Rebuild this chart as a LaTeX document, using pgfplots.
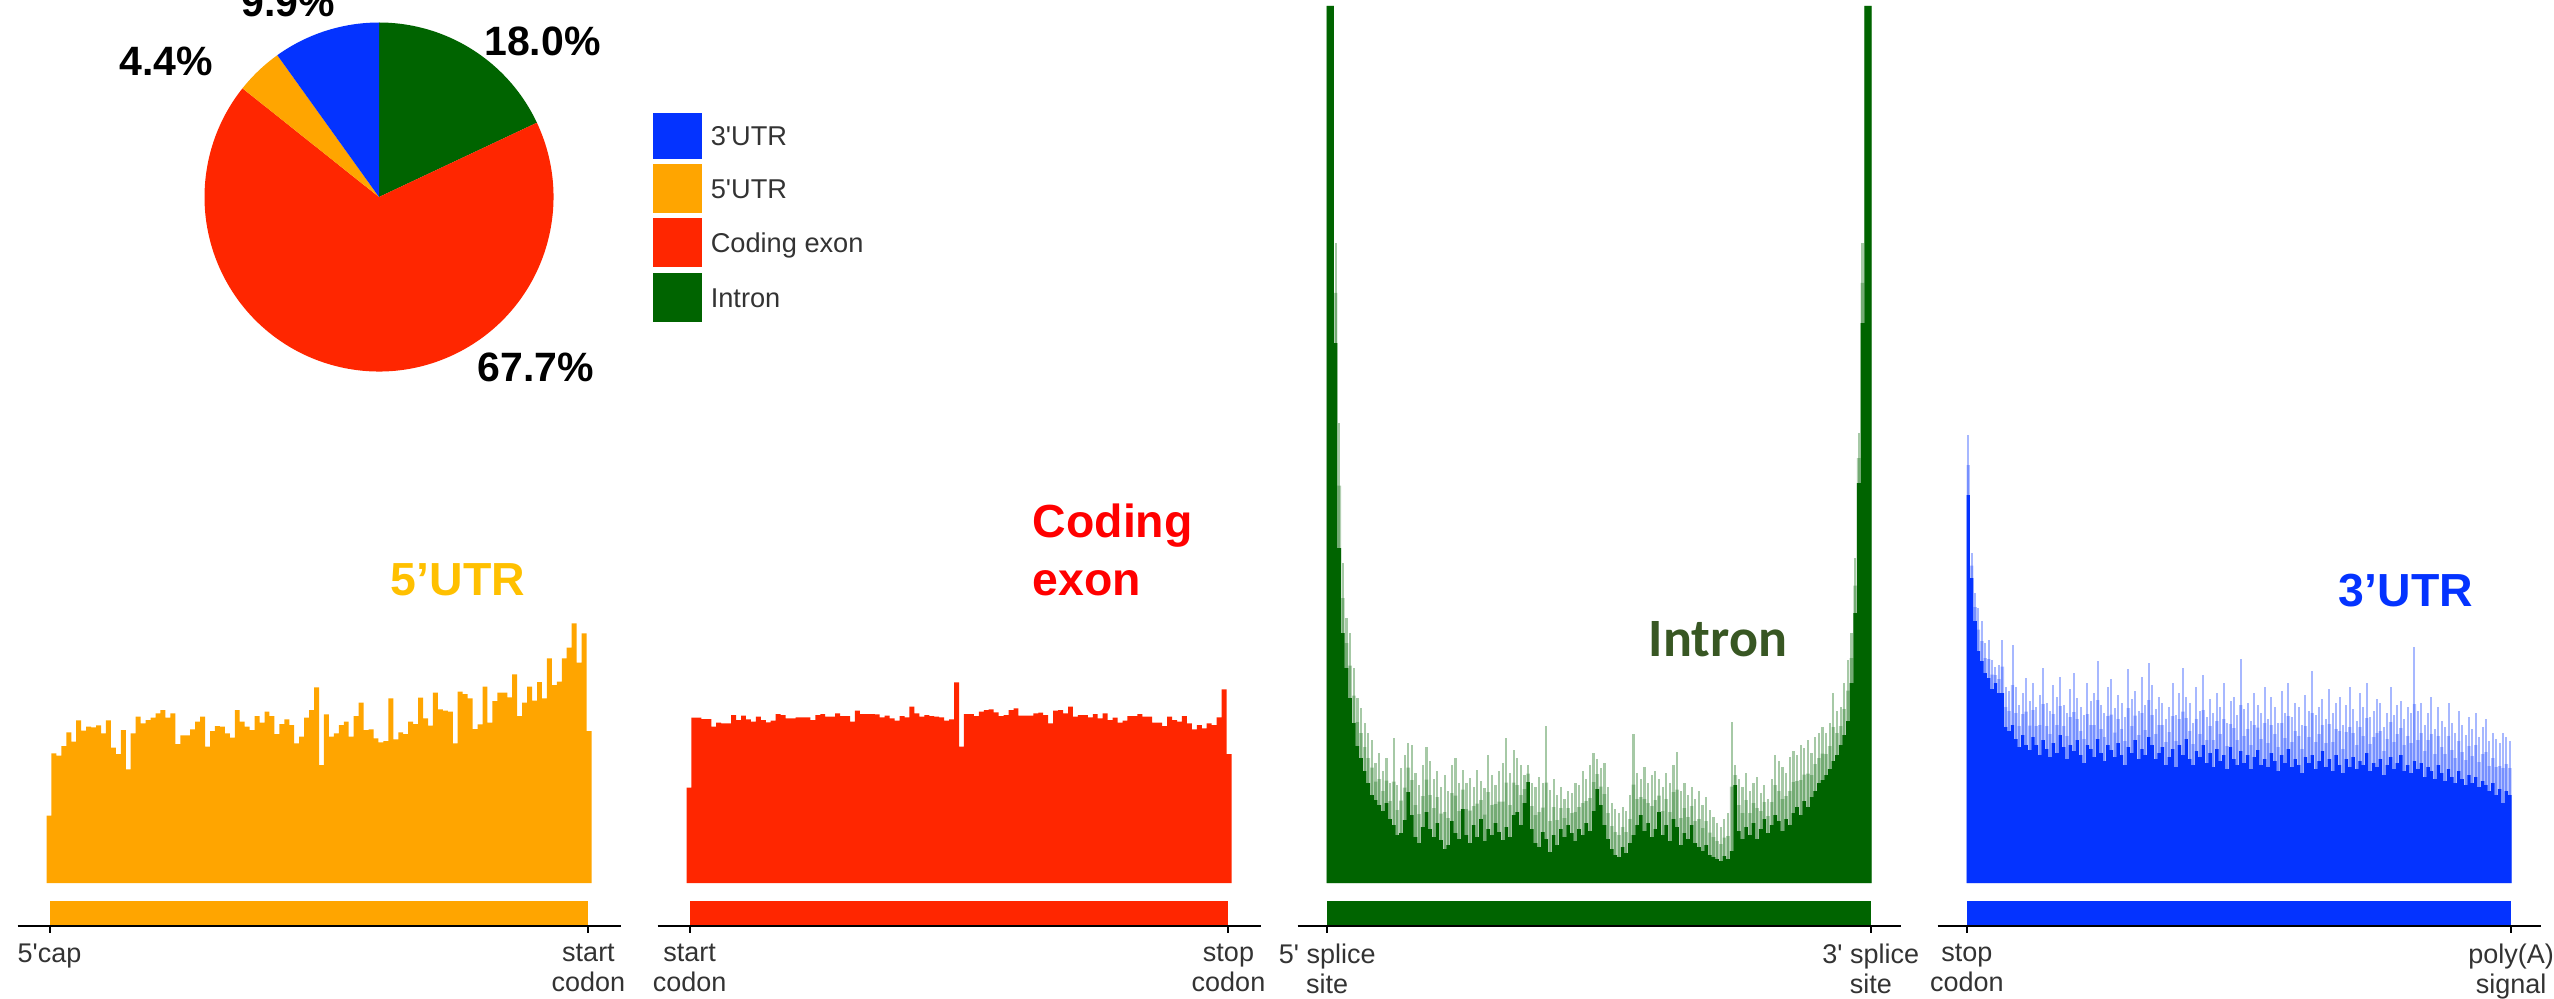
\documentclass[border=0pt]{standalone}
\usepackage{pgfplots}
\pgfplotsset{compat=1.18}
\usepackage{pgfplotstable}
\usepackage{fontspec}
\setmainfont{Liberation Sans}
\newfontfamily\carlito{Carlito}

\definecolor{cOrange}{RGB}{255,165,0}
\definecolor{cRed}{RGB}{255,38,0}
\definecolor{cGreen}{RGB}{0,100,0}
\definecolor{cBlue}{RGB}{4,51,255}
\definecolor{tGold}{RGB}{255,192,0}
\definecolor{tRed}{RGB}{255,0,0}
\definecolor{tOlive}{RGB}{56,87,35}
\definecolor{txtGray}{RGB}{51,51,51}
\newcommand\sq{\textquotesingle}

% read density per bin (baseline = 0)
\pgfplotstableread[row sep=\\]{h\\
67.3\\ 129.7\\ 127.3\\ 137.0\\ 150.7\\ 141.3\\ 162.7\\ 152.3\\ 156.3\\ 155.7\\
157.7\\ 149.7\\ 162.7\\ 135.3\\ 129.0\\ 153.0\\ 113.7\\ 149.7\\ 166.3\\ 159.7\\
163.0\\ 165.3\\ 169.7\\ 173.0\\ 165.3\\ 169.7\\ 139.0\\ 147.7\\ 147.7\\ 153.7\\
161.3\\ 166.3\\ 136.3\\ 152.0\\ 157.0\\ 156.3\\ 149.7\\ 145.3\\ 173.0\\ 161.3\\
156.3\\ 153.0\\ 167.0\\ 160.3\\ 171.3\\ 167.0\\ 149.0\\ 159.0\\ 163.7\\ 158.0\\
139.7\\ 146.3\\ 165.3\\ 173.0\\ 195.7\\ 118.0\\ 168.7\\ 146.3\\ 149.7\\ 158.0\\
161.3\\ 146.3\\ 167.0\\ 180.3\\ 153.0\\ 153.7\\ 144.7\\ 140.7\\ 142.0\\ 184.7\\
143.7\\ 150.7\\ 149.0\\ 161.3\\ 159.0\\ 185.3\\ 164.7\\ 157.3\\ 190.3\\ 173.7\\
172.3\\ 171.3\\ 139.7\\ 191.3\\ 189.0\\ 184.7\\ 154.0\\ 158.7\\ 196.3\\ 160.3\\
182.0\\ 190.3\\ 190.3\\ 185.7\\ 208.7\\ 167.0\\ 180.3\\ 196.3\\ 182.3\\ 201.0\\
184.7\\ 224.7\\ 198.0\\ 201.3\\ 224.7\\ 235.3\\ 259.7\\ 220.3\\ 249.7\\ 152.0\\
152.0\\
}\utrfive

\pgfplotstableread[row sep=\\]{h\\
95.3\\ 165.3\\ 165.3\\ 164.0\\ 164.0\\ 156.3\\ 160.3\\ 159.7\\ 159.7\\ 168.0\\
163.0\\ 167.3\\ 163.7\\ 161.3\\ 166.3\\ 163.0\\ 160.7\\ 162.3\\ 169.0\\ 168.0\\
164.7\\ 164.7\\ 165.7\\ 165.7\\ 165.7\\ 163.0\\ 168.0\\ 169.0\\ 166.3\\ 166.3\\
169.7\\ 167.0\\ 167.0\\ 161.3\\ 172.3\\ 169.0\\ 169.0\\ 169.0\\ 168.7\\ 165.7\\
167.3\\ 164.7\\ 162.3\\ 167.0\\ 165.7\\ 176.3\\ 169.7\\ 166.3\\ 168.0\\ 167.0\\
166.3\\ 165.7\\ 162.3\\ 163.7\\ 200.7\\ 136.3\\ 169.0\\ 169.0\\ 167.0\\ 171.3\\
173.0\\ 173.7\\ 170.7\\ 167.0\\ 168.0\\ 173.0\\ 174.7\\ 167.3\\ 167.3\\ 167.3\\
169.7\\ 170.3\\ 168.0\\ 159.7\\ 172.3\\ 173.0\\ 169.7\\ 176.3\\ 166.3\\ 168.0\\
168.0\\ 165.7\\ 169.0\\ 164.7\\ 169.7\\ 163.0\\ 165.3\\ 160.3\\ 162.3\\ 167.0\\
167.0\\ 169.0\\ 166.3\\ 166.3\\ 160.3\\ 160.3\\ 157.0\\ 166.3\\ 163.0\\ 161.3\\
167.0\\ 159.7\\ 153.7\\ 158.0\\ 154.7\\ 159.7\\ 158.0\\ 165.7\\ 193.7\\ 129.0\\
129.0\\
}\coding

% hi = sparse tallest bins, lo = dense bulk of bins
\pgfplotstableread[row sep=\\]{hi lo\\
877 877\\ 877 877\\ 640 540\\ 460 335\\ 320 250\\ 265 215\\ 250 185\\ 215 160\\ 185 137\\ 175 125\\
160 112\\ 150 100\\ 143 88\\ 120 83\\ 130 78\\ 112 72\\ 125 80\\ 100 64\\ 145 58\\ 98 48\\
115 50\\ 128 63\\ 140 91\\ 138 68\\ 110 46\\ 98 40\\ 118 56\\ 136 71\\ 122 54\\ 104 46\\
112 60\\ 96 43\\ 108 34\\ 92 38\\ 118 62\\ 125 50\\ 100 44\\ 113 74\\ 100 48\\ 105 40\\
96 58\\ 113 46\\ 102 64\\ 95 42\\ 128 54\\ 108 48\\ 98 60\\ 112 51\\ 120 43\\ 145 56\\
110 46\\ 133 68\\ 125 71\\ 118 58\\ 108 80\\ 118 101\\ 100 54\\ 96 40\\ 106 36\\ 100 51\\
157 44\\ 93 31\\ 104 48\\ 88 38\\ 96 54\\ 84 46\\ 92 58\\ 90 50\\ 100 42\\ 98 54\\
112 48\\ 104 60\\ 118 52\\ 130 72\\ 124 94\\ 115 78\\ 120 58\\ 96 44\\ 80 34\\ 74 28\\
70 26\\ 76 36\\ 72 30\\ 88 40\\ 149 48\\ 110 58\\ 104 68\\ 116 52\\ 100 60\\ 108 46\\
112 54\\ 104 71\\ 96 48\\ 110 58\\ 100 42\\ 118 64\\ 131 56\\ 92 38\\ 100 50\\ 88 44\\
96 58\\ 84 40\\ 92 36\\ 78 32\\ 86 38\\ 73 28\\ 66 26\\ 60 24\\ 56 22\\ 64 27\\
70 24\\ 161 32\\ 118 98\\ 104 52\\ 96 44\\ 110 56\\ 92 48\\ 100 60\\ 106 44\\ 90 54\\
98 64\\ 84 50\\ 104 58\\ 128 68\\ 122 62\\ 116 52\\ 110 64\\ 126 58\\ 132 70\\ 128 76\\
138 68\\ 135 82\\ 143 76\\ 130 86\\ 146 92\\ 150 100\\ 156 103\\ 150 108\\ 160 114\\ 190 122\\
172 128\\ 176 138\\ 200 148\\ 223 162\\ 250 200\\ 325 270\\ 450 400\\ 640 560\\ 877 877\\ 877 877\\
877 877\\
}\intron

\pgfplotstableread[row sep=\\]{hi lo\\
448 388\\ 330 305\\ 290 262\\ 275 232\\ 262 222\\ 240 210\\ 243 205\\ 223 194\\ 216 200\\ 218 190\\
243 190\\ 196 156\\ 192 152\\ 238 158\\ 196 144\\ 178 136\\ 190 148\\ 205 138\\ 182 133\\ 200 146\\
176 138\\ 188 128\\ 215 143\\ 180 134\\ 172 126\\ 198 140\\ 186 130\\ 206 148\\ 178 136\\ 170 124\\
194 138\\ 210 132\\ 185 143\\ 176 128\\ 168 120\\ 200 138\\ 182 134\\ 190 126\\ 222 144\\ 178 130\\
170 122\\ 196 138\\ 204 133\\ 175 126\\ 188 140\\ 180 128\\ 166 118\\ 214 136\\ 184 130\\ 192 143\\
172 124\\ 206 134\\ 178 128\\ 220 146\\ 198 138\\ 174 124\\ 186 130\\ 180 136\\ 164 118\\ 176 126\\
200 134\\ 168 116\\ 190 138\\ 215 128\\ 186 144\\ 180 124\\ 160 118\\ 196 132\\ 172 126\\ 208 138\\
166 120\\ 184 130\\ 170 116\\ 190 134\\ 176 122\\ 200 128\\ 160 114\\ 182 136\\ 186 124\\ 168 118\\
224 132\\ 174 120\\ 180 128\\ 162 114\\ 190 126\\ 178 133\\ 170 118\\ 196 124\\ 164 116\\ 186 130\\
176 122\\ 160 112\\ 192 128\\ 170 120\\ 200 134\\ 166 116\\ 180 124\\ 176 118\\ 158 110\\ 188 126\\
172 120\\ 212 128\\ 168 114\\ 176 122\\ 184 132\\ 164 116\\ 194 124\\ 170 112\\ 180 128\\ 186 118\\
158 110\\ 178 124\\ 196 116\\ 174 126\\ 162 114\\ 190 122\\ 176 118\\ 200 130\\ 166 112\\ 172 120\\
184 116\\ 180 124\\ 156 108\\ 170 118\\ 196 126\\ 168 114\\ 178 120\\ 182 128\\ 164 112\\ 176 118\\
170 110\\ 236 122\\ 172 114\\ 180 120\\ 158 106\\ 170 116\\ 186 112\\ 154 104\\ 176 118\\ 162 110\\
156 102\\ 180 114\\ 160 106\\ 150 100\\ 172 112\\ 158 104\\ 148 98\\ 166 108\\ 154 100\\ 170 106\\
146 96\\ 156 102\\ 164 98\\ 142 92\\ 150 100\\ 144 88\\ 140 94\\ 150 80\\ 146 92\\ 142 88\\
142 88\\
}\utrthree

\pgfplotsset{
  panel/.style={
    scale only axis, width=150.75pt, height=230.625pt,
    anchor=south west,
    ymin=-42.5, ymax=880,
    axis y line=none, axis x line*=bottom,
    axis line style={line width=0.5pt, black},
    tick align=outside, major tick length=1.75pt,
    xtick style={black, line width=0.5pt},
    xticklabel style={font=\fontsize{6.75}{7.5}\selectfont, text=txtGray,
      align=center, inner sep=0pt, anchor=north, yshift=-2.6pt},
    clip=false,
  },
  hist/.style={const plot mark left, fill=#1, draw=none},
  spikes/.style={ycomb, no markers, draw=#1, draw opacity=0.35, line width=0.5pt},
}

% pie slice boundaries (clockwise from 12 o'clock)
\pgfmathsetmacro\aA{90-3.6*18.0}
\pgfmathsetmacro\aB{\aA-3.6*67.7}
\pgfmathsetmacro\aC{\aB-3.6*4.4}
\pgfmathsetmacro\aD{\aC-3.6*9.9}
\def\R{43.625pt}

\begin{document}
\begin{tikzpicture}
\useasboundingbox (0,0) rectangle (638.5pt,249.5pt);

% ---------- pie of read share per region ----------
\begin{axis}[at={(94.75pt,200.25pt)}, anchor=center, scale only axis,
  width=87.25pt, height=87.25pt, xmin=-1, xmax=1, ymin=-1, ymax=1,
  hide axis, clip=false]
  \fill[cGreen]  (axis cs:0,0) -- ++(90:\R)  arc[start angle=90,  end angle=\aA, radius=\R] -- cycle;
  \fill[cRed]    (axis cs:0,0) -- ++(\aA:\R) arc[start angle=\aA, end angle=\aB, radius=\R] -- cycle;
  \fill[cOrange] (axis cs:0,0) -- ++(\aB:\R) arc[start angle=\aB, end angle=\aC, radius=\R] -- cycle;
  \fill[cBlue]   (axis cs:0,0) -- ++(\aC:\R) arc[start angle=\aC, end angle=\aD, radius=\R] -- cycle;
\end{axis}

% ---------- 5'UTR ----------
\begin{axis}[panel, at={(4.375pt,18.125pt)},
  xmin=-5.853, xmax=115.853,
  xtick={0.61,109.39}, xticklabels={5\sq cap, {start\\codon}}]
  \addplot[hist=cOrange] table[x expr=\coordindex, y=h] {\utrfive} \closedcycle;
  \fill[cOrange] (axis cs:0.61,-18) rectangle (axis cs:109.39,-41.5);
\end{axis}

% ---------- coding exon ----------
\begin{axis}[panel, at={(164.375pt,18.125pt)},
  xmin=-5.853, xmax=115.853,
  xtick={0.61,109.39}, xticklabels={{start\\codon}, {stop\\codon}}]
  \addplot[hist=cRed] table[x expr=\coordindex, y=h] {\coding} \closedcycle;
  \fill[cRed] (axis cs:0.61,-18) rectangle (axis cs:109.39,-41.5);
\end{axis}

% ---------- intron ----------
\begin{axis}[panel, at={(324.375pt,18.125pt)},
  xmin=-7.982, xmax=157.982,
  xtick={0.2,149.8}, xticklabels={{5\sq{} splice\\site}, {3\sq{} splice\\site}}]
  \addplot[spikes=cGreen, restrict x to domain=0:150, line width=0.55pt]
    table[x expr=\coordindex+0.5, y=hi] {\intron};
  \addplot[hist=cGreen, fill opacity=0.3]
    table[x expr=\coordindex, y expr=0.5*(\thisrow{hi}+\thisrow{lo})] {\intron} \closedcycle;
  \addplot[hist=cGreen] table[x expr=\coordindex, y=lo] {\intron} \closedcycle;
  \fill[cGreen] (axis cs:0.2,-18) rectangle (axis cs:149.8,-41.5);
\end{axis}

% ---------- 3'UTR ----------
\begin{axis}[panel, at={(484.375pt,18.125pt)},
  xmin=-8.514, xmax=168.514,
  xtick={0.1,159.9}, xticklabels={{stop\\codon}, {poly(A)\\signal}}]
  \addplot[spikes=cBlue, restrict x to domain=0:160]
    table[x expr=\coordindex+0.5, y=hi] {\utrthree};
  \addplot[hist=cBlue, fill opacity=0.3]
    table[x expr=\coordindex, y expr=0.5*(\thisrow{hi}+\thisrow{lo})] {\utrthree} \closedcycle;
  \addplot[hist=cBlue] table[x expr=\coordindex, y=lo] {\utrthree} \closedcycle;
  \fill[cBlue] (axis cs:0.1,-18) rectangle (axis cs:159.9,-41.5);
\end{axis}

\begin{scope}[x=0.25pt, y=0.25pt]
  % pie percentages
  \begin{scope}[every node/.style={anchor=base, inner sep=0pt,
      font=\bfseries\fontsize{10.25}{12}\selectfont}]
    \node at (542.5,942.6) {18.0\%};
    \node at (166,922.4) {4.4\%};
    \node at (536,617) {67.7\%};
    \node at (288.5,981) {9.9\%};
  \end{scope}
  % legend
  \fill[cBlue]   (653,839) rectangle (702,885);
  \fill[cOrange] (653,785) rectangle (702,834);
  \fill[cRed]    (653,731) rectangle (702,780);
  \fill[cGreen]  (653,676) rectangle (702,725);
  \begin{scope}[every node/.style={anchor=base west, inner sep=0pt, text=txtGray,
      font=\fontsize{6.8}{8}\selectfont}]
    \node at (710,852) {3\sq UTR};
    \node at (710,799.5) {5\sq UTR};
    \node at (710,745.5) {Coding exon};
    \node at (710,690.5) {Intron};
  \end{scope}
  % panel titles
  \node[anchor=base west, inner sep=0pt, text=tGold,
    font=\bfseries\fontsize{11.6}{14}\selectfont] at (390,403) {5’UTR};
  \node[anchor=base west, inner sep=0pt, text=tRed, align=left,
    font=\bfseries\fontsize{11.6}{14.5}\selectfont] at (1032,403) {Coding\\exon};
  \node[anchor=base west, inner sep=0pt, text=tOlive,
    font=\carlito\bfseries\fontsize{13.5}{16}\selectfont] at (1648,342) {Intron};
  \node[anchor=base west, inner sep=0pt, text=cBlue,
    font=\bfseries\fontsize{11.6}{14}\selectfont] at (2338,392) {3’UTR};
\end{scope}
\end{tikzpicture}
\end{document}
